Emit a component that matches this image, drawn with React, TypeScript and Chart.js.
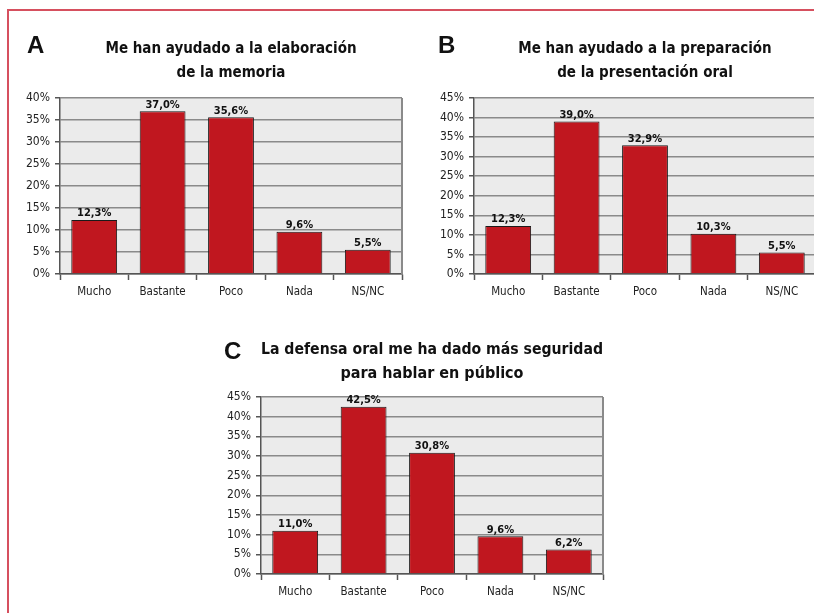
import React, { useEffect, useRef } from "react";
import { Chart, registerables } from "chart.js";

Chart.register(...registerables);

const categories = ["Mucho", "Bastante", "Poco", "Nada", "NS/NC"];
const valuesA = [12.3, 37.0, 35.6, 9.6, 5.5];
const valuesB = [12.3, 39.0, 32.9, 10.3, 5.5];
const valuesC = [11.0, 42.5, 30.8, 9.6, 6.2];
const titleA = ["Me han ayudado a la elaboración", "de la memoria"];
const titleB = ["Me han ayudado a la preparación", "de la presentación oral"];
const titleC = ["La defensa oral me ha dado más seguridad", "para hablar en público"];
const yMaxA = 40;
const yMaxB = 45;
const yMaxC = 45;
const yStep = 5;

const FONT = '"Liberation Sans Narrow", "Arial Narrow", "DejaVu Sans Condensed", sans-serif';
const BAR = "#c0171f";

const bgPlugin = {
  id: "plotBg",
  beforeDraw(chart: any) {
    const { ctx, chartArea: a } = chart;
    ctx.save();
    ctx.fillStyle = "#ebebeb";
    ctx.fillRect(a.left, a.top, a.right - a.left, a.bottom - a.top);
    ctx.restore();
  },
  beforeDatasetsDraw(chart: any) {
    const { ctx, chartArea: a } = chart;
    ctx.save();
    ctx.strokeStyle = "#8a8a8a";
    ctx.lineWidth = 2;
    ctx.beginPath();
    ctx.moveTo(a.right, a.top);
    ctx.lineTo(a.right, a.bottom);
    ctx.stroke();
    ctx.restore();
  },
};

const valueLabels = {
  id: "valueLabels",
  afterDatasetsDraw(chart: any) {
    const { ctx } = chart;
    const meta = chart.getDatasetMeta(0);
    const data = chart.data.datasets[0].data as number[];
    ctx.save();
    ctx.font = `bold 11px ${FONT}`;
    ctx.fillStyle = "#111";
    ctx.textAlign = "center";
    ctx.textBaseline = "bottom";
    meta.data.forEach((el: any, i: number) => {
      const t = data[i].toFixed(1).replace(".", ",") + "%";
      ctx.fillText(t, el.x, el.y - 1);
    });
    ctx.restore();
  },
};

type PanelProps = {
  values: number[];
  title: string[];
  titleSize: number;
  yMax: number;
  left: number;
  top: number;
  width: number;
  height: number;
  yAxisWidth: number;
  padRight: number;
  padBottom: number;
  titlePadTop: number;
  titlePadBottom: number;
  xAxisHeight: number;
};

function Panel(p: PanelProps) {
  const ref = useRef<HTMLCanvasElement | null>(null);
  useEffect(() => {
    if (!ref.current) return;
    const chart = new Chart(ref.current, {
      type: "bar",
      data: {
        labels: categories,
        datasets: [
          {
            data: p.values,
            backgroundColor: BAR,
            borderColor: "#1a1a1a",
            borderWidth: 1,
            barPercentage: 0.67,
            categoryPercentage: 1,
          },
        ],
      },
      options: {
        animation: false,
        responsive: false,
        maintainAspectRatio: false,
        layout: { padding: { left: 0, right: p.padRight, top: 0, bottom: p.padBottom } },
        plugins: {
          legend: { display: false },
          tooltip: { enabled: false },
          title: {
            display: true,
            text: p.title,
            fullSize: false,
            color: "#111",
            font: { family: FONT, size: p.titleSize, weight: "bold", lineHeight: 24 / p.titleSize },
            padding: { top: p.titlePadTop, bottom: p.titlePadBottom },
          },
        },
        scales: {
          x: {
            offset: true,
            grid: {
              display: true,
              drawOnChartArea: false,
              drawTicks: true,
              tickLength: 6,
              tickColor: "#555",
              tickWidth: 1.5,
              offset: true,
            },
            border: { display: true, color: "#555", width: 1.5 },
            ticks: { color: "#222", font: { family: FONT, size: 11.5 }, padding: 5 },
            afterFit(scale: any) {
              scale.height = p.xAxisHeight;
            },
          },
          y: {
            min: 0,
            max: p.yMax,
            ticks: {
              stepSize: yStep,
              color: "#222",
              font: { family: FONT, size: 12 },
              padding: 5,
              callback: (v: any) => v + "%",
            },
            grid: {
              color: "#8a8a8a",
              lineWidth: 1.5,
              tickLength: 5,
              tickColor: "#555",
              tickWidth: 1.5,
            },
            border: { display: true, color: "#555", width: 1.5 },
            afterFit(scale: any) {
              scale.width = p.yAxisWidth;
            },
          },
        },
      },
      plugins: [bgPlugin, valueLabels],
    });
    return () => chart.destroy();
  }, []);
  return (
    <canvas
      ref={ref}
      width={p.width}
      height={p.height}
      style={{ position: "absolute", left: p.left, top: p.top, width: p.width, height: p.height }}
    />
  );
}

const letterStyle: React.CSSProperties = {
  position: "absolute",
  fontFamily: '"Liberation Sans", Arial, sans-serif',
  fontWeight: "bold",
  fontSize: 24,
  lineHeight: "24px",
  color: "#111",
};

export default function App() {
  return (
    <div
      style={{
        position: "fixed",
        left: 0,
        top: 0,
        width: 814,
        height: 613,
        overflow: "hidden",
        background: "#fff",
      }}
    >
      <div
        style={{
          position: "absolute",
          left: 7,
          top: 9,
          width: 830,
          height: 630,
          borderLeft: "2px solid #d6505f",
          borderTop: "2px solid #d6505f",
        }}
      />
      <Panel
        values={valuesA}
        title={titleA}
        titleSize={15}
        yMax={yMaxA}
        left={10}
        top={12}
        width={400}
        height={300}
        yAxisWidth={50}
        padRight={8}
        padBottom={8}
        titlePadTop={25}
        titlePadBottom={13}
        xAxisHeight={30}
      />
      <Panel
        values={valuesB}
        title={titleB}
        titleSize={15}
        yMax={yMaxB}
        left={420}
        top={12}
        width={400}
        height={300}
        yAxisWidth={54}
        padRight={4}
        padBottom={8}
        titlePadTop={25}
        titlePadBottom={13}
        xAxisHeight={30}
      />
      <Panel
        values={valuesC}
        title={titleC}
        titleSize={16}
        yMax={yMaxC}
        left={200}
        top={310}
        width={420}
        height={300}
        yAxisWidth={61}
        padRight={17}
        padBottom={6}
        titlePadTop={28}
        titlePadBottom={11}
        xAxisHeight={30}
      />
      <div style={{ ...letterStyle, left: 27, top: 33 }}>A</div>
      <div style={{ ...letterStyle, left: 438, top: 33 }}>B</div>
      <div style={{ ...letterStyle, left: 224, top: 339 }}>C</div>
    </div>
  );
}
